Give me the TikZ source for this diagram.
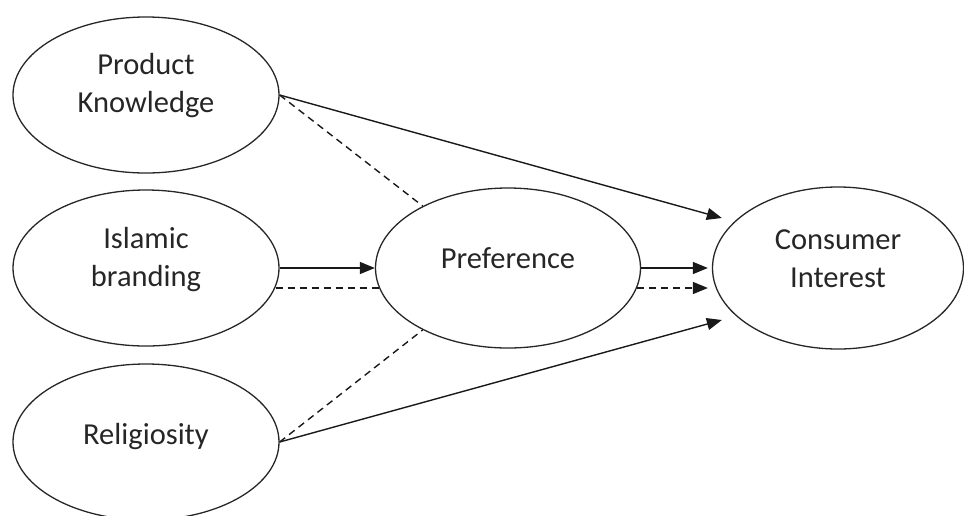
\documentclass[tikz,border=0pt]{standalone}
\usepackage{fontspec}
\setmainfont{Carlito}
\usetikzlibrary{arrows.meta,calc,shapes.geometric}
\begin{document}
\begin{tikzpicture}[x=1pt,y=-1pt,
  ell/.style={draw=black!85,ellipse,line width=1.3pt,minimum width=266pt,minimum height=156pt,inner sep=0pt},
  lbl/.style={font=\fontsize{30.5}{38}\selectfont,align=center,text=black!85,inner sep=0pt},
  sol/.style={draw=black!90,line width=1.4pt,-{Triangle[length=15pt,width=12pt]}},
  dsh/.style={draw=black!90,line width=1.4pt,dash pattern=on 7pt off 5pt},
  dshar/.style={dsh,-{Triangle[length=15pt,width=12pt]}}
]
\useasboundingbox (0,0) rectangle (964,515);
\clip (0,0) rectangle (964,515);
\node[ell] (pk) at (146,95) {};
\node[ell] (ib) at (146,268) {};
\node[ell] (rel) at (146,442) {};
\node[ell,minimum width=265pt,minimum height=160pt] (pref) at (508,268) {};
\node[ell,minimum width=251pt,minimum height=162pt] (ci) at (838,268) {};
\node[lbl] (pkt) at ($(pk)+(0,-9)$) {Product\\Knowledge};
\node[lbl] (ibt) at ($(ib)+(0,-8)$) {Islamic\\branding};
\node[lbl] (relt) at ($(rel)+(0,-5)$) {Religiosity};
\node[lbl] (preft) at ($(pref)+(0,-10)$) {Preference};
\node[lbl] (cit) at ($(ci)+(0,-9)$) {Consumer\\Interest};
\draw[sol] (pk.east) -- ($(ci.west)+(10,-50)$);
\draw[dsh] (pk.east) -- (pref.144);
\draw[sol] (ib.east) -- (pref.west);
\draw[dsh] ($(ib.east)+(-4,20)$) -- ($(pref.west)+(4,20)$);
\draw[sol] (pref.east) -- ($(ci.west)+(-4,0)$);
\draw[dshar] ($(pref.east)+(-4,20)$) -- ($(ci.west)+(-4,20)$);
\draw[sol] (rel.east) -- ($(ci.west)+(10,52)$);
\draw[dsh] (rel.east) -- (pref.216);
\end{tikzpicture}
\end{document}
